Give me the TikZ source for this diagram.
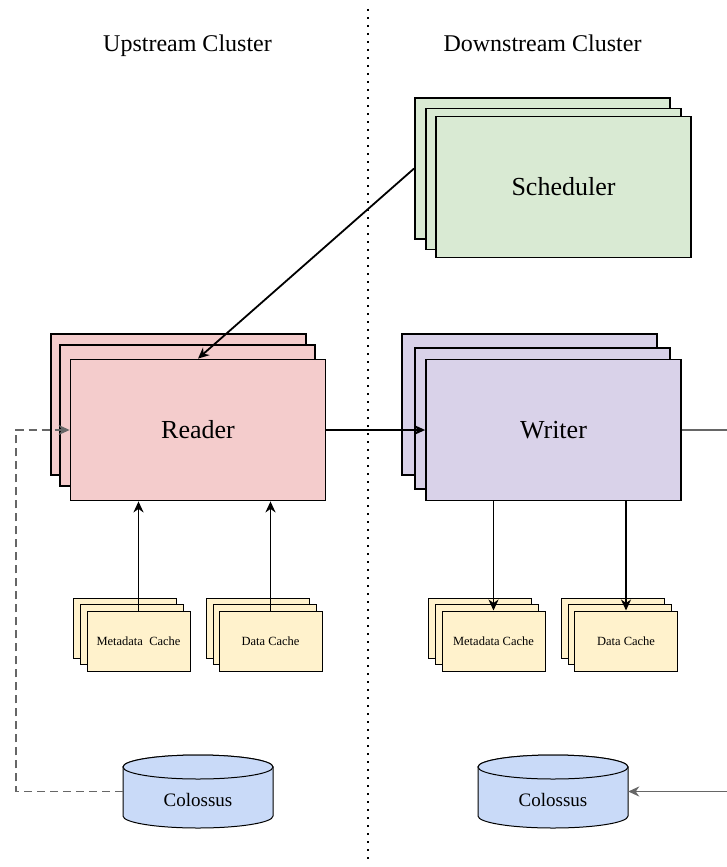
\documentclass[tikz,border=0pt]{standalone}
\usepackage{fontspec}
\setmainfont{Liberation Serif}
\usetikzlibrary{arrows.meta}
\definecolor{schedfill}{HTML}{D9EAD3}
\definecolor{readfill}{HTML}{F4CCCC}
\definecolor{writefill}{HTML}{D9D2E9}
\definecolor{cachefill}{HTML}{FFF2CC}
\definecolor{colfill}{HTML}{C9DAF8}
\definecolor{linegray}{HTML}{666666}
\begin{document}
\begin{tikzpicture}[x=1pt,y=-1pt,
  bigbox/.style={draw=black, line width=1.8pt, minimum width=255pt, minimum height=141pt, inner sep=0pt, font=\fontsize{26}{30}\selectfont},
  cachebox/.style={draw=black, line width=1pt, fill=cachefill, minimum width=103pt, minimum height=60pt, inner sep=0pt, font=\fontsize{12.5}{15}\selectfont},
  colnode/.style={minimum width=150pt, minimum height=73pt, inner sep=0pt},
  coltext/.style={font=\fontsize{19}{22}\selectfont, anchor=base},
  titletext/.style={font=\fontsize{24}{28}\selectfont, anchor=base},
  arr/.style={line width=1.8pt, -{Stealth[length=11pt,width=10pt,inset=3.5pt]}},
  grayarr/.style={line width=1.8pt, draw=linegray, -{Stealth[length=11pt,width=10pt,inset=3.5pt]}},
  dashedarr/.style={line width=1.8pt, draw=linegray, dash pattern=on 8pt off 5pt, -{Stealth[length=11pt,width=10pt,inset=3.5pt]}},
  cyl/.style={draw=black, line width=1pt, fill=colfill}
]
\useasboundingbox (0,0) rectangle (727,867);

% divider
\draw[line width=1.8pt, dash pattern=on 1.8pt off 6.2pt] (368,9) -- (368,862);

% titles
\node[titletext] (uptitle) at (187.5,52) {Upstream Cluster};
\node[titletext] (downtitle) at (542.5,52) {Downstream Cluster};

% Scheduler stack
\node[bigbox, fill=schedfill] (schedB) at (542.5,168.5) {};
\node[bigbox, fill=schedfill] (schedM) at (553.5,179) {};
\node[bigbox, fill=schedfill] (sched) at (563.5,187) {Scheduler};

% Reader stack
\node[bigbox, fill=readfill] (readB) at (178.5,404.5) {};
\node[bigbox, fill=readfill] (readM) at (187.5,415.5) {};
\node[bigbox, fill=readfill] (reader) at (198,430) {Reader};

% Writer stack
\node[bigbox, fill=writefill] (writeB) at (529.5,404.5) {};
\node[bigbox, fill=writefill] (writeM) at (542.5,418.5) {};
\node[bigbox, fill=writefill] (writer) at (553.5,430) {Writer};

% Upstream caches
\node[cachebox] (umdB) at (125,628) {};
\node[cachebox] (umdM) at (132,634) {};
\node[cachebox] (umd) at (138.5,641) {Metadata\ \ Cache};
\node[cachebox] (udcB) at (257.5,628) {};
\node[cachebox] (udcM) at (264.5,634) {};
\node[cachebox] (udc) at (270.5,641) {Data Cache};

% Downstream caches
\node[cachebox] (dmdB) at (480,628) {};
\node[cachebox] (dmdM) at (486.5,634) {};
\node[cachebox] (dmd) at (493.5,641) {Metadata Cache};
\node[cachebox] (ddcB) at (613,628) {};
\node[cachebox] (ddcM) at (619.5,634) {};
\node[cachebox] (ddc) at (626,641) {Data Cache};

% Colossus cylinders
\node[colnode] (col1) at (198,791.5) {};
\draw[cyl] (123,767) -- (123,816) arc[start angle=180,end angle=0,x radius=75,y radius=12] -- (273,767) arc[start angle=0,end angle=-180,x radius=75,y radius=12] -- cycle;
\draw[cyl] (198,767) ellipse[x radius=75,y radius=12];
\node[coltext] (col1text) at (198,806) {Colossus};

\node[colnode] (col2) at (553,791.5) {};
\draw[cyl] (478,767) -- (478,816) arc[start angle=180,end angle=0,x radius=75,y radius=12] -- (628,767) arc[start angle=0,end angle=-180,x radius=75,y radius=12] -- cycle;
\draw[cyl] (553,767) ellipse[x radius=75,y radius=12];
\node[coltext] (col2text) at (553,806) {Colossus};

% connectors
\draw[arr] (schedB.west) -- (reader.north);
\draw[arr] (reader.east) -- (writer.west);
\draw[arr] (umd.north) -- (reader.south -| umd.north);
\draw[arr] (udc.north) -- (reader.south -| udc.north);
\draw[arr] (writer.south -| dmd.north) -- (dmd.north);
\draw[arr] (writer.south -| ddc.north) -- (ddc.north);

\coordinate (dl) at (16,791.5);
\coordinate (ul) at (16,430);
\draw[dashedarr] (col1.west) -- (dl) -- (ul) -- (reader.west);

\coordinate (outtop) at (740,430);
\coordinate (outbot) at (740,791.5);
\draw[grayarr] (writer.east) -- (outtop) -- (outbot) -- (col2.east);
\end{tikzpicture}
\end{document}
